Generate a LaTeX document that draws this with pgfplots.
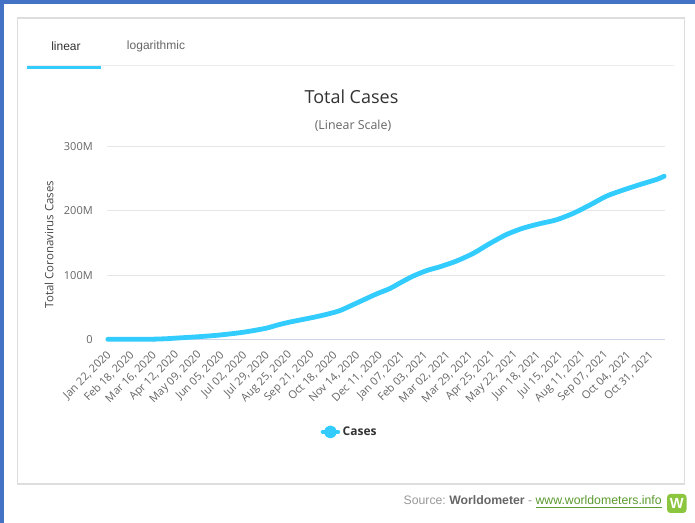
\documentclass[border=0pt]{standalone}
\usepackage{pgfplots}
\pgfplotsset{compat=1.18}
\usepackage{fontspec}
\setmainfont{Open Sans}
\newfontfamily\arialf{Liberation Sans}
\definecolor{hcblue}{HTML}{33CCFF}
\definecolor{frameblue}{HTML}{4472C4}
\definecolor{panelgray}{HTML}{DDDDDD}
\definecolor{gridgray}{HTML}{E6E6E6}
\definecolor{axisbase}{HTML}{CCD6EB}
\definecolor{lab}{HTML}{666666}
\definecolor{dark}{HTML}{333333}
\definecolor{srcgray}{HTML}{999999}
\definecolor{linkgreen}{HTML}{5A9A2E}
\definecolor{logogreen}{HTML}{8CC63F}
\pgfplotstableread{
day cases
0 0.0
27 0.08
54 0.18
70 0.9
81 1.8
95 2.9
108 4.0
122 5.3
135 6.8
150 9.0
162 11.0
176 14.0
190 17.5
205 23.0
220 27.5
245 34.0
262 39.0
277 44.5
290 52.0
305 61.0
320 70.0
337 79.0
351 89.0
365 98.5
381 107.0
397 113.0
417 122.0
437 134.0
457 149.5
477 163.5
496 173.0
516 180.0
536 186.0
556 196.0
576 209.0
596 223.0
616 232.5
636 241.0
656 249.0
665 254.0
}\casestable
\begin{document}
\begin{tikzpicture}[x=0.75pt,y=0.75pt]
% background and frame (image y -> 523 - y)
\fill[white] (0,0) rectangle (695,523);
\fill[frameblue] (0,0) rectangle (4,523);
\fill[frameblue] (0,519.3) rectangle (695,523);
\draw[panelgray, line width=1.1pt] (17.5,39) rectangle (684.3,505);
% tabs
\draw[gridgray!70, line width=0.75pt] (27,457.3) -- (674,457.3);
\draw[hcblue, line width=2.2pt] (27,455.7) -- (101,455.7);
\node[font=\arialf\fontsize{9}{11}\selectfont, text=dark] at (66,476.5) {linear};
\node[font=\arialf\fontsize{9}{11}\selectfont, text=lab] at (156,476.5) {logarithmic};
% titles
\node[font=\fontsize{13.5}{16}\selectfont, text=dark] at (351.5,426) {Total Cases};
\node[font=\fontsize{9.3}{11}\selectfont, text=lab] at (353,397) {(Linear Scale)};
\begin{axis}[
  at={(80.25pt,137.775pt)}, anchor=south west,
  scale only axis, width=418.5pt, height=144.45pt,
  xmin=-1, xmax=666, ymin=0, ymax=300,
  axis line style={draw=none},
  major tick length=0pt,
  ytick={0,100,200,300}, yticklabels={0,100M,200M,300M},
  xtick={0,27,...,648},
  xticklabels={{Jan 22, 2020},{Feb 18, 2020},{Mar 16, 2020},{Apr 12, 2020},{May 09, 2020},{Jun 05, 2020},{Jul 02, 2020},{Jul 29, 2020},{Aug 25, 2020},{Sep 21, 2020},{Oct 18, 2020},{Nov 14, 2020},{Dec 11, 2020},{Jan 07, 2021},{Feb 03, 2021},{Mar 02, 2021},{Mar 29, 2021},{Apr 25, 2021},{May 22, 2021},{Jun 18, 2021},{Jul 15, 2021},{Aug 11, 2021},{Sep 07, 2021},{Oct 04, 2021},{Oct 31, 2021}},
  /pgf/number format/assume math mode=true,
  ymajorgrids, grid style={gridgray, line width=0.75pt},
  yticklabel style={font=\fontsize{8.25}{10}\selectfont, text=lab, anchor=east, inner sep=0pt, xshift=-10.5pt},
  xticklabel style={font=\fontsize{8.25}{10}\selectfont, text=lab, rotate=45, anchor=east, inner sep=0pt, yshift=-8.4pt, xshift=-6.5pt},
  ylabel={Total Coronavirus Cases},
  ylabel style={font=\fontsize{8.6}{10}\selectfont, text=dark!90, at={(axis description cs:-0.104,0.492)}, anchor=center},
  clip=false,
  legend style={at={(axis description cs:0.4355,-0.481)}, anchor=center, draw=none, fill=none, font=\bfseries\fontsize{9}{11}\selectfont, text=dark, inner sep=0pt, legend cell align=left},
  legend image code/.code={\draw[hcblue, line width=3pt] (0pt,0pt) -- (11.5pt,0pt); \fill[hcblue] (5.75pt,0pt) circle (3pt);},
]
\draw[axisbase, line width=0.9pt] (rel axis cs:0,0) -- (rel axis cs:1,0);
\addplot[hcblue, line width=3.6pt, smooth, tension=0.4, line cap=round, line join=round] table[x=day, y=cases] {\casestable};
\addlegendentry{Cases}
\end{axis}
% source line
\node[anchor=base east, font=\arialf\fontsize{9.2}{11}\selectfont, inner sep=0pt] at (662,18) {\textcolor{srcgray}{Source:~}\textcolor{lab}{\bfseries Worldometer}\textcolor{srcgray}{~-~}\textcolor{linkgreen}{\underline{www.worldometers.info}}};
\fill[logogreen, rounded corners=2.5pt] (667,10) rectangle (686.5,29);
\node[font=\arialf\bfseries\fontsize{11}{12}\selectfont, text=white, inner sep=0pt] at (676.8,19.5) {W};
\end{tikzpicture}
\end{document}
